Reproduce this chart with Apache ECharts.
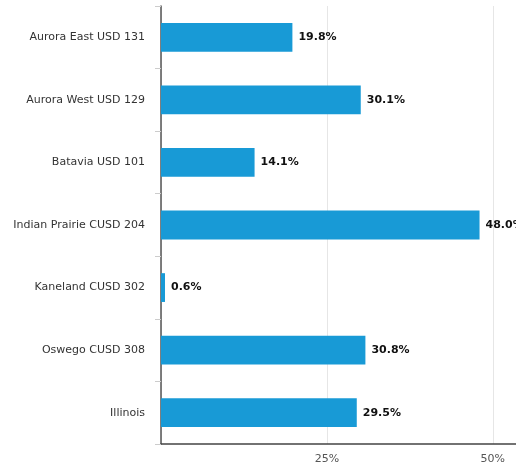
<!DOCTYPE html>
<html><head><meta charset="utf-8">
<script src="https://cdn.jsdelivr.net/npm/echarts@6/dist/echarts.min.js"></script>
<style>html,body{margin:0;padding:0;background:#fff}#c{width:516px;height:468px}</style>
</head><body><div id="c"></div>
<script>
const categories = ["Aurora East USD 131","Aurora West USD 129","Batavia USD 101","Indian Prairie CUSD 204","Kaneland CUSD 302","Oswego CUSD 308","Illinois"];
const values = [19.8, 30.1, 14.1, 48.0, 0.6, 30.8, 29.5];
const xTicks = [0, 25, 50];

const chart = echarts.init(document.getElementById('c'), null, {renderer:'canvas'});
chart.setOption({
  animation:false,
  grid:{left:161, top:6, width:365, height:438, containLabel:false, outerBoundsMode:'none'},
  xAxis:{type:'value', min:0, max:55, interval:25,
    axisLine:{show:true, lineStyle:{color:'#444', width:1.5}},
    axisTick:{show:false},
    splitLine:{show:true, lineStyle:{color:'#e6e6e6'}},
    axisLabel:{color:'#555', fontSize:11, fontFamily:'DejaVu Sans', margin:10,
      formatter:v => (xTicks.includes(v) && v!==0) ? v + '%' : ''}
  },
  yAxis:{type:'category', data:categories, inverse:true,
    axisLine:{show:true, lineStyle:{color:'#555', width:1.5}},
    axisTick:{show:true, length:6, lineStyle:{color:'#ccc'}},
    axisLabel:{color:'#333', fontSize:11, fontFamily:'DejaVu Sans', margin:16}
  },
  series:[{type:'bar', data:values, barWidth:'46%',
    itemStyle:{color:'#189ad6'},
    label:{show:true, position:'right', distance:6, color:'#111', fontWeight:'bold', fontSize:11, fontFamily:'DejaVu Sans',
      formatter:p => p.value.toFixed(1) + '%'}
  }]
});
</script></body></html>
